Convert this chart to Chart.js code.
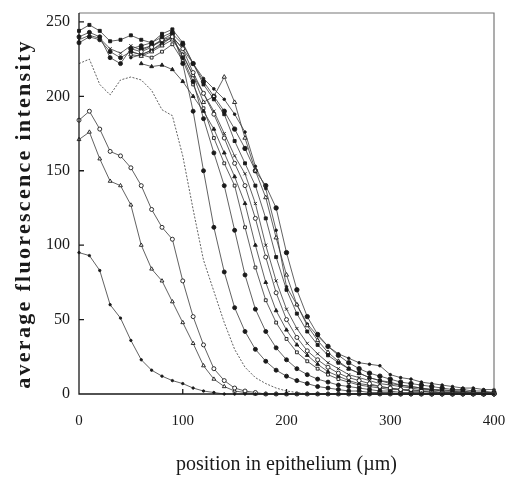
<!DOCTYPE html>
<html>
<head>
<meta charset="utf-8">
<script src="https://cdn.jsdelivr.net/npm/chart.js@4.4.1/dist/chart.umd.min.js"></script>
<style>
  html, body { margin: 0; padding: 0; background: #fff; }
  #wrap { width: 505px; height: 480px; }
</style>
</head>
<body>
<div id="wrap"><canvas id="profileChart" width="505" height="480"></canvas></div>
<script>
// position in epithelium (um)
const positions = [0,10,20,30,40,50,60,70,80,90,100,110,120,130,140,150,160,170,180,190,200,
  210,220,230,240,250,260,270,280,290,300,310,320,330,340,350,360,370,380,390,400];

const xTicks = [0, 100, 200, 300, 400];
const yTicks = [0, 50, 100, 150, 200, 250];

// fluorescence profiles, one array per curve
const lowest = [95,93,83,60,51,36,23,16,12,9,7,4,2,1,0,0,0,0,0,0,0,0,0,0,0,0,0,0,0,0,0,0,0,0,0,0,0,0,0,0,0];
const openCircles185 = [184,190,178,163,160,152,140,124,112,104,76,52,33,17,9,4,2,1,0,0,0,0,0,0,0,0,0,0,0,0,0,0,0,0,0,0,0,0,0,0,0];
const triangles170 = [171,176,158,143,140,127,100,84,76,62,48,34,19,10,5,2,1,0,0,0,0,0,0,0,0,0,0,0,0,0,0,0,0,0,0,0,0,0,0,0,0];
const smooth220 = [222,225,208,201,211,213,211,204,191,187,160,124,90,69,48,30,18,11,7,4,2,1,0,0,0,0,0,0,0,0,0,0,0,0,0,0,0,0,0,0,0];
const upper1 = [244,248,244,237,238,241,238,236,242,245,236,222,208,198,188,170,155,140,118,92,70,54,42,33,26,21,17,14,11,9,8,6,5,4,3,3,2,2,1,1,1];
const upper2 = [240,243,240,226,222,232,234,236,240,243,222,190,150,112,82,58,42,30,22,16,12,9,7,5,4,3,2,2,1,1,1,0,0,0,0,0,0,0,0,0,0];
const upper3 = [null,null,null,null,null,232,230,233,238,240,232,216,202,188,172,155,140,118,92,68,50,38,29,23,18,14,11,9,7,5,4,3,3,2,2,1,1,1,1,0,0];
const upper4 = [null,null,null,null,null,228,227,230,234,238,228,214,196,200,213,196,172,150,132,105,80,60,46,36,28,22,17,14,11,9,7,6,5,4,3,2,2,2,1,1,1];
const upper5 = [236,240,238,230,226,230,228,231,235,240,226,210,185,162,140,110,80,57,42,31,23,17,13,10,8,6,5,4,3,2,2,1,1,1,0,0,0,0,0,0,0];
const upper6 = [null,null,null,null,null,226,228,231,236,240,232,222,212,205,198,188,176,153,138,110,72,60,47,39,32,27,24,21,20,19,13,11,10,8,7,6,5,4,4,3,3];
const upper7 = [null,null,null,null,null,null,222,220,221,218,210,200,190,178,162,146,128,100,75,56,43,33,26,20,15,12,9,7,6,5,4,3,2,2,1,1,1,1,0,0,0];
const upper8 = [null,null,null,null,null,230,228,226,230,235,224,208,192,172,155,140,112,85,63,48,37,28,22,17,13,10,8,6,5,4,3,3,2,2,1,1,1,1,0,0,0];
const upper9 = [null,null,null,null,null,null,232,234,238,242,235,222,210,200,190,178,165,150,140,125,95,70,52,40,32,26,21,17,14,12,10,8,7,6,5,4,3,3,2,2,1];
const upper10 = [238,241,239,232,229,234,231,234,237,239,228,214,202,190,175,160,148,128,100,76,57,44,34,27,21,17,13,11,9,7,6,5,4,3,3,2,2,1,1,1,1];

const serif = '"Liberation Serif", "DejaVu Serif", serif';
const ink = '#1a1a1a';

// marker look for each curve
const curves = [
    { data: lowest, style: 'circle', r: 1.2, fill: true },
    { data: openCircles185, style: 'circle', r: 2, fill: false },
    { data: triangles170, style: 'triangle', r: 2.2, fill: false },
    { data: smooth220, style: 'circle', r: 0, fill: false, dash: [2, 1.5] },
    { data: upper1, style: 'rect', r: 2.1, fill: true },
    { data: upper2, style: 'circle', r: 2, fill: true },
    { data: upper3, style: 'circle', r: 2, fill: false },
    { data: upper4, style: 'triangle', r: 2.4, fill: false },
    { data: upper5, style: 'circle', r: 2, fill: true },
    { data: upper6, style: 'circle', r: 1.3, fill: true },
    { data: upper7, style: 'triangle', r: 2.2, fill: true },
    { data: upper8, style: 'rect', r: 2, fill: false },
    { data: upper9, style: 'circle', r: 2.2, fill: true },
    { data: upper10, style: 'crossRot', r: 2.2, fill: false }
];

// box round the plot, inward ticks, rotated y title with wide letter spacing
const frame = {
    id: 'frame',
    afterDraw(chart) {
        const { ctx, chartArea: a, scales: { x, y } } = chart;
        ctx.save();
        ctx.strokeStyle = '#777';
        ctx.lineWidth = 1.2;
        ctx.beginPath();
        ctx.moveTo(a.left, a.top); ctx.lineTo(a.right, a.top); ctx.lineTo(a.right, a.bottom);
        ctx.stroke();
        ctx.strokeStyle = ink;
        ctx.lineWidth = 1.3;
        ctx.beginPath();
        ctx.moveTo(a.left, a.top); ctx.lineTo(a.left, a.bottom); ctx.lineTo(a.right, a.bottom);
        xTicks.forEach(v => {
            const px = x.getPixelForValue(v);
            ctx.moveTo(px, a.bottom); ctx.lineTo(px, a.bottom - 5);
        });
        yTicks.forEach(v => {
            const py = y.getPixelForValue(v);
            ctx.moveTo(a.left, py); ctx.lineTo(a.left + 5, py);
        });
        ctx.stroke();

        ctx.translate(24, 214);
        ctx.rotate(-Math.PI / 2);
        ctx.font = 'bold 22px ' + serif;
        ctx.letterSpacing = '2.3px';
        ctx.fillStyle = ink;
        ctx.textAlign = 'center';
        ctx.textBaseline = 'middle';
        ctx.fillText('average fluorescence intensity', 0, 0);
        ctx.restore();
    }
};

new Chart(document.getElementById('profileChart'), {
    type: 'line',
    data: {
        datasets: curves.map(c => ({
            data: c.data.map((v, i) => ({ x: positions[i], y: v })),
            borderColor: '#3a3a3a',
            borderWidth: 0.8,
            borderDash: c.dash || [],
            pointStyle: c.style,
            pointRadius: c.r,
            pointBorderWidth: 0.9,
            pointBorderColor: ink,
            pointBackgroundColor: c.fill ? ink : '#fff',
            spanGaps: false,
            tension: 0
        }))
    },
    options: {
        responsive: false,
        animation: false,
        clip: false,
        layout: { padding: { top: 13, right: 11, left: 0, bottom: 0 } },
        plugins: { legend: { display: false }, tooltip: { enabled: false } },
        scales: {
            x: {
                type: 'linear',
                min: 0,
                max: 400,
                afterFit: s => { s.height = 86; s.paddingLeft = 0; s.paddingRight = 0; },
                afterBuildTicks: s => { s.ticks = xTicks.map(v => ({ value: v })); },
                grid: { display: false },
                border: { display: false },
                ticks: { color: ink, padding: 10, font: { family: serif, size: 15 } },
                title: {
                    display: true,
                    text: 'position in epithelium (µm)',
                    color: ink,
                    padding: { top: 0, bottom: 3 },
                    font: { family: serif, size: 20 }
                }
            },
            y: {
                min: 0,
                max: 256,
                afterFit: s => { s.width = 79; s.paddingTop = 0; s.paddingBottom = 0; },
                afterBuildTicks: s => { s.ticks = yTicks.map(v => ({ value: v })); },
                grid: { display: false },
                border: { display: false },
                ticks: { color: ink, padding: 1, font: { family: serif, size: 16 } }
            }
        }
    },
    plugins: [frame]
});
</script>
</body>
</html>
